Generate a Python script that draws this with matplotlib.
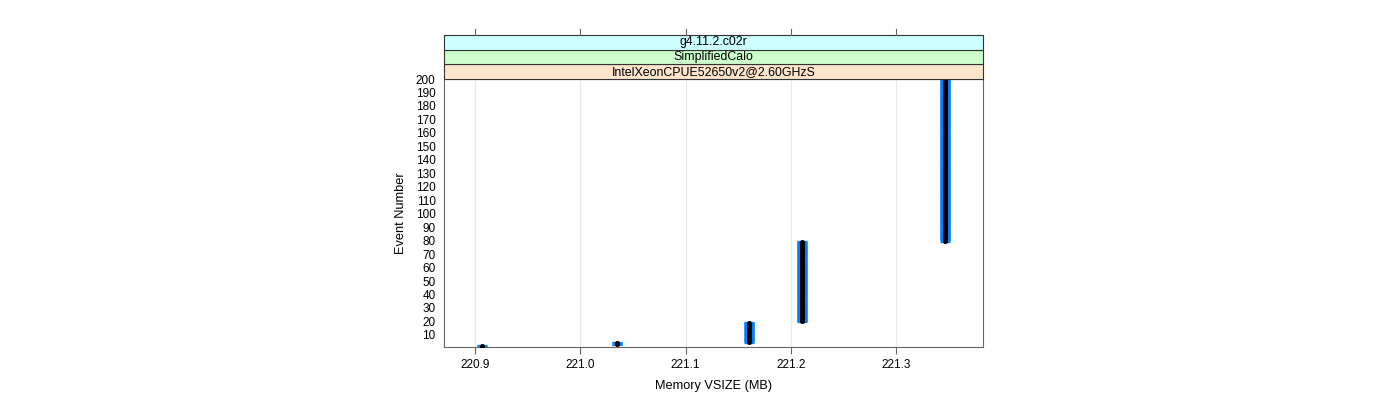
import numpy as np
import matplotlib
matplotlib.use("Agg")
import matplotlib.pyplot as plt
from matplotlib.patches import Rectangle

plt.rcParams['font.family'] = ['Liberation Sans', 'DejaVu Sans']

# memory level reached and the event ranges spent at it
mem_levels = [220.907, 221.035, 221.160, 221.211, 221.347]
first_event = [1, 3, 5, 20, 80]
last_event = [2, 4, 19, 79, 200]

strip_labels = ["IntelXeonCPUE52650v2@2.60GHzS", "SimplifiedCalo", "g4.11.2.c02r"]
strip_colors = ["#ffe5cc", "#ccffcc", "#ccffff"]

x_ticks = [220.9, 221.0, 221.1, 221.2, 221.3]
y_ticks = list(range(10, 201, 10))

events = []
memory = []
for m, a, b in zip(mem_levels, first_event, last_event):
    for e in range(a, b + 1):
        events.append(e)
        memory.append(m)
events = np.array(events)
memory = np.array(memory)

fig = plt.figure(figsize=(14, 4), dpi=100)
left, right = 444 / 1400, 983 / 1400
bottom, top = 1 - 347 / 400, 1 - 79 / 400
ax = fig.add_axes([left, bottom, right - left, top - bottom])

xmin, xmax = 220.8705, 221.3827
ax.set_xlim(xmin, xmax)
ax.set_ylim(1, 200)
for xt in x_ticks:
    ax.axvline(xt, color="#e8e8e8", lw=0.8, zorder=0)

ax.plot(memory, events, ls="none", marker="_", ms=7.4, mew=2.4, color="#0080ff", zorder=2)
ax.plot(memory, events, ls="none", marker="o", ms=3.6, mew=0, color="black", zorder=3)

ax.set_xticks(x_ticks)
ax.set_xticklabels(["%.1f" % v for v in x_ticks])
ax.set_yticks(y_ticks)
ax.tick_params(axis="x", length=5, width=0.8, color="#666666", labelsize=8.5, pad=4)
ax.tick_params(axis="y", length=0, labelsize=8.5, pad=6)
for sp in ax.spines.values():
    sp.set_color("#666666")
    sp.set_linewidth(0.8)

ax.set_xlabel("Memory VSIZE (MB)", fontsize=9.2, labelpad=6)
ax.set_ylabel("Event Number", fontsize=9.2, labelpad=6)

# strips above the panel
strip_h = 14.7 / 400
for i, (lab, col) in enumerate(zip(strip_labels, strip_colors)):
    y0 = top + i * strip_h
    fig.patches.append(Rectangle((left, y0), right - left, strip_h, transform=fig.transFigure,
                                 facecolor=col, edgecolor="#333333", lw=0.8))
    fig.text((left + right) / 2, y0 + strip_h / 2, lab, ha="center", va="center", fontsize=8.9)

# tick marks on top of the strips
top_strip = top + 3 * strip_h
for xt in x_ticks:
    xf = left + (xt - xmin) / (xmax - xmin) * (right - left)
    fig.add_artist(plt.Line2D([xf, xf], [top_strip, top_strip + 6 / 400], transform=fig.transFigure,
                              color="#666666", lw=0.8))

fig.savefig("out.png", dpi=100)
